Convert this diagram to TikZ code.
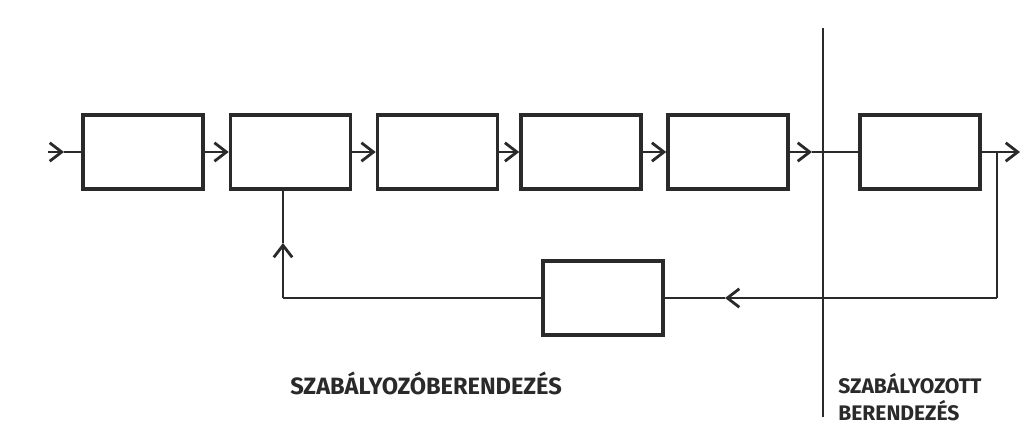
\documentclass[tikz,border=0pt]{standalone}
\usepackage{fontspec}
\setmainfont{Fira Sans}
\usepackage{tikz}
\usetikzlibrary{arrows.meta}
\definecolor{ink}{HTML}{2A2A2A}
\tikzset{
  blk/.style={draw=ink,line width=2.5pt,minimum width=30mm,minimum height=18.5mm,inner sep=0pt},
  wire/.style={draw=ink,line width=2pt},
  arr/.style={wire,-{Straight Barb[length=3mm,width=4.6mm,line width=2pt]}},
  lbl/.style={text=ink,font=\bfseries\fontsize{16.8}{19}\selectfont,inner sep=0pt}
}
\begin{document}
\begin{tikzpicture}[x=0.25mm,y=-0.25mm]
\useasboundingbox (0,0) rectangle (1024,438);
% forward chain, all centred on the signal line y = 152
\foreach \nm/\cx in {b1/143, b2/290.5, b3/437.5, b4/581, b5/728, b6/920}{%
  \node[blk] (\nm) at (\cx,152) {};
}
\node[blk] (fb) at (603,298) {};
% free ends of the connectors
\coordinate (in) at (48,152);
\coordinate (inTip) at (64,152);
\coordinate (cut) at (812,152);
\coordinate (out) at (1020,152);
\coordinate (br) at (997,152);
\coordinate (brd) at (997,298);
\coordinate (fbTip) at (725,298);
\coordinate (up) at (283,298);
\coordinate (upTip) at (283,243);
\coordinate (divTop) at (823,28);
\coordinate (divBot) at (823,417);
% signal path
\draw[arr] (in) -- (inTip);
\draw[wire] (inTip) -- (b1.west);
\foreach \a/\b in {b1/b2, b2/b3, b3/b4, b4/b5}{%
  \draw[arr] (\a.east) -- (\b.west);
}
\draw[arr] (b5.east) -- (cut);
\draw[wire] (cut) -- (b6.west);
\draw[arr] (b6.east) -- (out);
% feedback loop
\draw[wire] (br) -- (brd);
\draw[arr] (brd) -- (fbTip);
\draw[wire] (fbTip) -- (fb.east);
\draw[wire] (fb.west) -- (up);
\draw[arr] (up) -- (upTip);
\draw[wire] (upTip) -- (upTip |- b2.south);
% border between the two parts
\draw[wire] (divTop) -- (divBot);
\node[lbl,anchor=west] (ctrl) at (290,383) {SZABÁLYOZÓBERENDEZÉS};
\node[lbl,anchor=north west,align=left,font=\bfseries\fontsize{15}{19.2}\selectfont]
  (plant) at (838,373) {SZABÁLYOZOTT\\BERENDEZÉS};
\end{tikzpicture}
\end{document}
